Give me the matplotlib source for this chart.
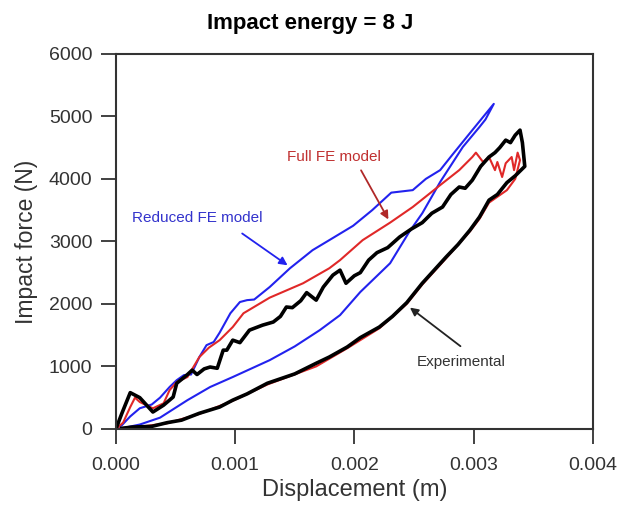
import matplotlib
matplotlib.use("Agg")
import matplotlib.pyplot as plt

plt.rcParams['font.family'] = ['Liberation Sans', 'DejaVu Sans']

# Reduced FE model (loading then unloading)
reducedX = [0, 0.00005, 0.00012, 0.00020, 0.00030, 0.00037, 0.00045, 0.00051, 0.00057, 0.00063,
            0.00070, 0.00076, 0.00082, 0.00087, 0.00096, 0.00104, 0.00110, 0.00116, 0.00129, 0.00146,
            0.00165, 0.00179, 0.00199, 0.00215, 0.00231, 0.00249, 0.00260, 0.00272, 0.00282, 0.00299,
            0.00317,
            0.00310, 0.00305, 0.00291, 0.00272, 0.00257, 0.00246, 0.00230, 0.00205, 0.00188, 0.00171,
            0.00150, 0.00129, 0.00098, 0.00079, 0.00060, 0.00037, 0.00020, 0.00005]
reducedY = [0, 60, 200, 330, 390, 500, 670, 780, 860, 870,
            1150, 1340, 1390, 1540, 1850, 2030, 2060, 2070, 2270, 2570,
            2860, 3020, 3250, 3500, 3780, 3820, 4000, 4140, 4380, 4780,
            5200,
            4950, 4830, 4510, 3950, 3450, 3150, 2650, 2190, 1820, 1580,
            1320, 1100, 830, 670, 460, 180, 70, 10]

# Full FE model
fullX = [0, 0.00006, 0.00012, 0.00016, 0.00020, 0.00031, 0.00040, 0.00045, 0.00051, 0.00060,
         0.00070, 0.00078, 0.00087, 0.00098, 0.00107, 0.00129, 0.00157, 0.00179, 0.00188, 0.00207,
         0.00230, 0.00249, 0.00272, 0.00288, 0.00299, 0.00302, 0.00308, 0.00313, 0.00318, 0.00320,
         0.00324, 0.00327, 0.00332, 0.00334, 0.00337, 0.00339,
         0.00335, 0.00328, 0.00313, 0.00305, 0.00297, 0.00277, 0.00257, 0.00244, 0.00221, 0.00194,
         0.00168, 0.00127, 0.00098, 0.00070, 0.00043, 0.00014, 0]
fullY = [0, 100, 350, 500, 430, 330, 410, 620, 750, 830,
         1150, 1300, 1420, 1630, 1850, 2100, 2330, 2570, 2700, 3020,
         3300, 3550, 3900, 4140, 4350, 4420, 4270, 4350, 4140, 4270,
         4030, 4250, 4350, 4140, 4420, 4300,
         4000, 3820, 3620, 3360, 3160, 2730, 2310, 2000, 1610, 1290,
         1000, 710, 450, 240, 90, 20, 0]

# Experimental
expX = [0, 0.00005, 0.00012, 0.00020, 0.00031, 0.00040, 0.00048, 0.00051, 0.00060, 0.00064,
        0.00068, 0.00074, 0.00079, 0.00085, 0.00090, 0.00093, 0.00098, 0.00104, 0.00112, 0.00123,
        0.00132, 0.00138, 0.00143, 0.00148, 0.00155, 0.00160, 0.00168, 0.00174, 0.00182, 0.00188,
        0.00193, 0.00200, 0.00205, 0.00212, 0.00219, 0.00228, 0.00238, 0.00248, 0.00257, 0.00265,
        0.00274, 0.00281, 0.00288, 0.00293, 0.00299, 0.00306, 0.00313, 0.00318, 0.00322, 0.00327,
        0.00331, 0.00335, 0.00339, 0.00341, 0.00343,
        0.00335, 0.00328, 0.00320, 0.00313, 0.00305, 0.00297, 0.00287, 0.00277, 0.00267, 0.00257,
        0.00244, 0.00232, 0.00221, 0.00205, 0.00194, 0.00179, 0.00168, 0.00150, 0.00127, 0.00110,
        0.00098, 0.00087, 0.00070, 0.00055, 0.00043, 0.00030, 0.00014, 0.00005]
expY = [0, 250, 580, 500, 270, 380, 510, 730, 870, 940,
        870, 960, 990, 970, 1260, 1260, 1420, 1380, 1580, 1660,
        1710, 1800, 1950, 1940, 2050, 2180, 2060, 2270, 2460, 2540,
        2330, 2450, 2500, 2700, 2820, 2900, 3070, 3200, 3300, 3450,
        3550, 3750, 3870, 3850, 3980, 4200, 4350, 4420, 4500, 4620,
        4580, 4700, 4780, 4580, 4200,
        4050, 3940, 3750, 3660, 3390, 3180, 2950, 2750, 2540, 2330,
        2020, 1800, 1630, 1460, 1310, 1150, 1050, 880, 730, 560,
        460, 350, 250, 140, 100, 40, 30, 10]

xTicks = [0.000, 0.001, 0.002, 0.003, 0.004]
xTickLabels = ['0.000', '0.001', '0.002', '0.003', '0.004']
yTicks = [0, 1000, 2000, 3000, 4000, 5000, 6000]

fig = plt.figure(figsize=(6.2, 5.18), dpi=100)
ax = fig.add_axes([0.187, 0.172, 0.769, 0.724])

ax.plot(reducedX, reducedY, color='#2222ee', linewidth=1.5)
ax.plot(fullX, fullY, color='#e02828', linewidth=1.5)
ax.plot(expX, expY, color='black', linewidth=2.6)

ax.set_xlim(0, 0.004)
ax.set_ylim(0, 6000)
ax.set_xticks(xTicks)
ax.set_xticklabels(xTickLabels)
ax.set_yticks(yTicks)
ax.tick_params(direction='out', length=11, width=1.3, labelsize=14, colors='#333333',
               top=False, right=False)
ax.tick_params(axis='x', pad=9)
ax.tick_params(axis='y', pad=6)
for s in ax.spines.values():
    s.set_linewidth(1.5)
    s.set_color('#333333')

ax.set_xlabel('Displacement (m)', fontsize=17, color='#333333', labelpad=4)
ax.set_ylabel('Impact force (N)', fontsize=16.5, color='#333333', labelpad=8)
# title sits over the figure centre, not the axes centre
fig.text(0.5, 1 - 24 / 518, 'Impact energy = 8 J', fontsize=16, fontweight='bold',
         ha='center', va='center')

# Annotations
ax.annotate('', xy=(0.002297, 3312), xytext=(0.002045, 4176),
            arrowprops=dict(arrowstyle='-|>', color='#b02828', lw=1.3, mutation_scale=12))
ax.text(0.001433, 4352, 'Full FE model', color='#c03030', fontsize=11, va='center', ha='left')

ax.annotate('', xy=(0.001459, 2592), xytext=(0.00104, 3152),
            arrowprops=dict(arrowstyle='-|>', color='#2222ee', lw=1.3, mutation_scale=12))
ax.text(0.000134, 3376, 'Reduced FE model', color='#3333cc', fontsize=11, va='center', ha='left')

ax.annotate('', xy=(0.002448, 1968), xytext=(0.002909, 1296),
            arrowprops=dict(arrowstyle='-|>', color='#222222', lw=1.3, mutation_scale=12))
ax.text(0.002523, 1072, 'Experimental', color='#333333', fontsize=11, va='center', ha='left')

fig.savefig('out.png', dpi=100)
